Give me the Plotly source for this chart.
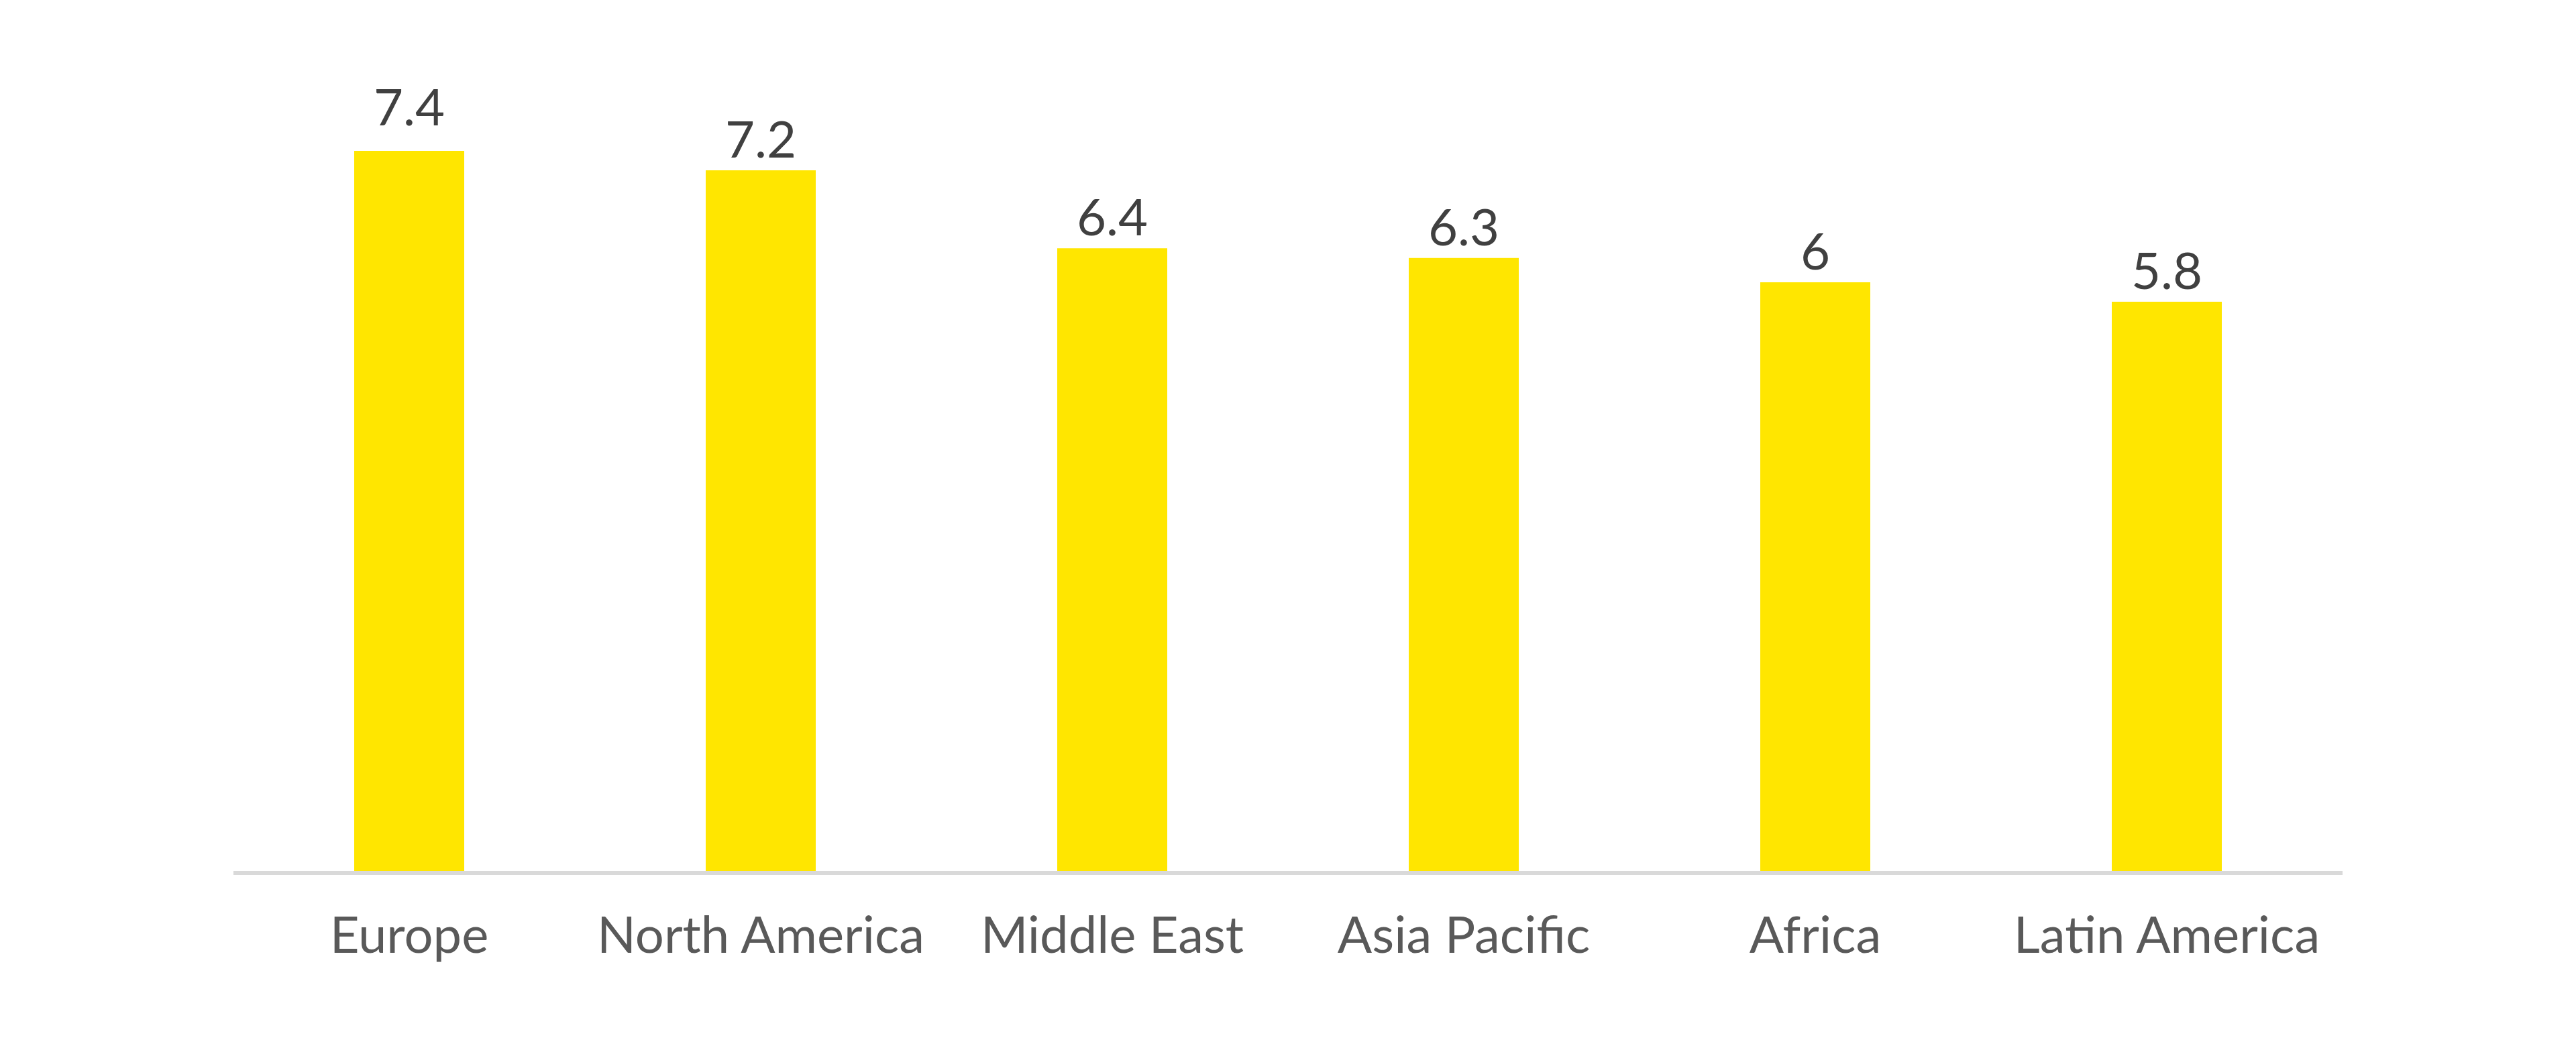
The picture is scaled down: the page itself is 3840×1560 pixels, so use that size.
import plotly.graph_objects as go

regions = ["Europe", "North America", "Middle East", "Asia Pacific", "Africa", "Latin America"]
values = [7.4, 7.2, 6.4, 6.3, 6.05, 5.85]
value_labels = ["7.4", "7.2", "6.4", "6.3", "6", "5.8"]

fig = go.Figure(
    go.Bar(
        x=regions,
        y=values,
        marker=dict(color="#FFE600", line=dict(width=0)),
        cliponaxis=False,
        hoverinfo="skip",
    )
)

for i, (r, v, lab) in enumerate(zip(regions, values, value_labels)):
    # the first label sits a little higher above its bar in the original
    shift = 20 if i == 0 else 1
    fig.add_annotation(
        x=r, y=v, text=lab, showarrow=False,
        xanchor="center", yanchor="bottom", yshift=shift,
        font=dict(family="Lato", size=76, color="#404040"),
    )

fig.update_layout(
    width=3840,
    height=1560,
    margin=dict(l=340, r=356, t=130, b=269),
    paper_bgcolor="white",
    plot_bgcolor="white",
    bargap=0.687,
    showlegend=False,
    font=dict(family="Lato"),
)
fig.update_xaxes(
    showline=True,
    linecolor="#D9D9D9",
    linewidth=6,
    ticks="",
    showgrid=False,
    tickfont=dict(family="Lato", size=76, color="#595959"),
    ticklabelstandoff=25,
)
fig.update_yaxes(
    range=[0, 8],
    visible=False,
    showgrid=False,
    zeroline=False,
)

fig.write_html("out.html")
